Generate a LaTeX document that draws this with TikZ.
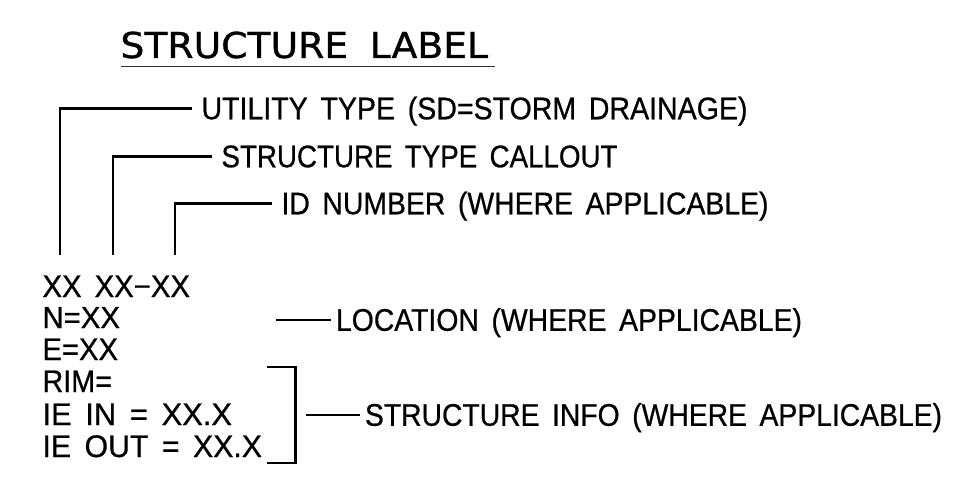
\documentclass[tikz,border=0pt]{standalone}
\usepackage{fontspec}
\usepackage{graphicx}
\newfontfamily\labfont[WordSpace=1.6, FakeBold=0.7]{Liberation Sans}
\newfontfamily\ttlfont[WordSpace=1.8, FakeBold=0.9]{DejaVu Sans}
\newcommand{\fitbox}[3]{\resizebox{#1pt}{#2pt}{\vphantom{X}\smash{#3}}}
\begin{document}
\begin{tikzpicture}[x=1pt, y=-1pt, line width=2.2pt,
  lab/.style={anchor=west, inner sep=0pt, outer sep=0pt, font=\labfont\fontsize{29}{30}\selectfont},
  blk/.style={anchor=south west, inner sep=0pt, outer sep=0pt, font=\labfont\fontsize{29}{30}\selectfont},
  ttl/.style={anchor=south west, inner sep=0pt, outer sep=0pt, font=\ttlfont\fontsize{35}{36}\selectfont},
  leader/.style={draw=black, line width=2.2pt}]
\useasboundingbox (0,0) rectangle (968,484);

% title
\node[ttl] (title) at (120.5,58) {\fitbox{367.5}{26}{STRUCTURE LABEL}};
\draw[line width=1.7pt, black!80] ([yshift=-8.5pt]title.south west) -- ++(374.5,0);

% upper callouts
\node[lab, outer xsep=10pt] (u) at (191.5,108.5) {\fitbox{546}{21.5}{UTILITY TYPE (SD=STORM DRAINAGE)}};
\node[lab, outer xsep=10pt] (s) at (211.5,156.5) {\fitbox{396}{21.5}{STRUCTURE TYPE CALLOUT}};
\node[lab, outer xsep=10pt] (i) at (271.5,203.5) {\fitbox{487}{21.5}{ID NUMBER (WHERE APPLICABLE)}};

\coordinate (c1) at (60,255);
\coordinate (c2) at (113.3,255);
\coordinate (c3) at (174.7,255);
\draw[leader] (c1) |- (u.west);
\draw[leader] (c2) |- (s.west);
\draw[leader] (c3) |- (i.west);

% label block
\node[blk] (l1) at (42.5,297) {\fitbox{147.5}{21.5}{XX XX−XX}};
\node[blk] (l2) at (42.5,328) {\fitbox{77.5}{21}{N=XX}};
\node[blk] (l3) at (42.5,360) {\fitbox{75.5}{21.5}{E=XX}};
\node[blk] (l4) at (42.5,392) {\fitbox{69.5}{21.5}{RIM=}};
\node[blk] (l5) at (42.5,425) {\fitbox{189.5}{21.5}{IE IN = XX.X}};
\node[blk] (l6) at (42.5,457) {\fitbox{219.5}{21.5}{IE OUT = XX.X}};

% location
\coordinate (l0) at (276,320);
\node[lab, outer xsep=5.5pt] (loc) at (330.5,320) {\fitbox{466}{21.5}{LOCATION (WHERE APPLICABLE)}};
\draw[leader] (l0) -- (loc.west);

% bracket and structure info
\coordinate (bt) at (267,366.7);
\coordinate (bb) at (267,462.7);
\draw[leader] (bt) -- ++(28.5,0) |- (bb);
\coordinate (i0) at (306,415);
\node[lab, outer xsep=5pt] (info) at (360,415) {\fitbox{577}{21.5}{STRUCTURE INFO (WHERE APPLICABLE)}};
\draw[leader] (i0) -- (info.west);
\end{tikzpicture}
\end{document}
